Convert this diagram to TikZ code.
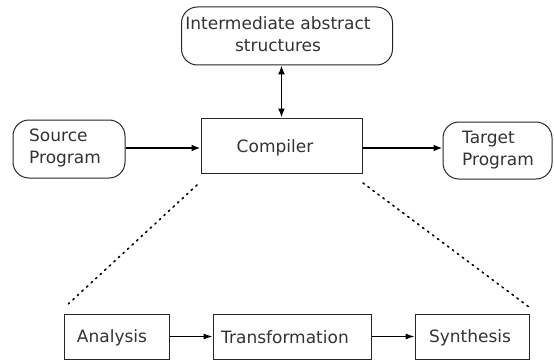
\documentclass[tikz,border=0pt]{standalone}
\usepackage{fontspec}
\setmainfont{DejaVu Sans}
\usetikzlibrary{arrows.meta}
\begin{document}
\begin{tikzpicture}[x=1pt,y=-1pt,
  txt/.style={font=\fontsize{17}{22}\selectfont, text=black!80, align=center, inner sep=0pt},
  ltxt/.style={txt, align=left, anchor=west},
  rbox/.style={draw=black!85, line width=1pt, rounded corners=16pt, inner sep=0pt},
  sbox/.style={draw=black!85, line width=1pt, inner sep=0pt},
  bigarrow/.style={line width=2pt, -{Latex[length=9pt,width=7pt]}},
  smallarrow/.style={line width=1pt, -{Latex[length=9pt,width=6pt]}},
  dotline/.style={line width=1.6pt, dash pattern=on 1.6pt off 4.6pt, line cap=round}]
\useasboundingbox (0,0) rectangle (554,361);
% shapes
\node[rbox, minimum width=211pt, minimum height=58pt] (inter) at (287,36) {};
\node[rbox, minimum width=112pt, minimum height=58pt] (src) at (69,149) {};
\node[sbox, minimum width=161pt, minimum height=55pt] (comp) at (281.5,145.5) {};
\node[rbox, minimum width=109pt, minimum height=57pt] (tgt) at (497.5,150.5) {};
\node[sbox, minimum width=105pt, minimum height=45pt] (ana) at (116.5,336.5) {};
\node[sbox, minimum width=158pt, minimum height=45pt] (trans) at (292,336.5) {};
\node[sbox, minimum width=114pt, minimum height=45pt] (syn) at (472,336.5) {};
% texts
\node[txt] (interT) at (278,34) {Intermediate abstract\\structures};
\node[ltxt] (srcT) at (29,148) {Source\\Program};
\node[txt] (compT) at (275,148) {Compiler};
\node[ltxt] (tgtT) at (462,150) {Target\\Program};
\node[txt] (anaT) at (112,338) {Analysis};
\node[txt] (transT) at (285,337) {Transformation};
\node[txt] (synT) at (470,338) {Synthesis};
% connectors
\draw[bigarrow] (src.east |- 0,148) -- (comp.west |- 0,148);
\draw[bigarrow] (comp.east |- 0,148) -- (tgt.west |- 0,148);
\draw[line width=1.6pt, {Latex[length=9pt,width=7pt]}-{Latex[length=9pt,width=7pt]}] (inter.south -| comp.north) -- (comp.north);
\draw[smallarrow] (ana.east) -- (trans.west);
\draw[smallarrow] (trans.east) -- (syn.west);
\coordinate (dl1) at (197,185);
\coordinate (dl2) at (65,307);
\coordinate (dr1) at (363,183);
\coordinate (dr2) at (529,307);
\draw[dotline] (dl1) -- (dl2);
\draw[dotline] (dr1) -- (dr2);
\end{tikzpicture}
\end{document}
